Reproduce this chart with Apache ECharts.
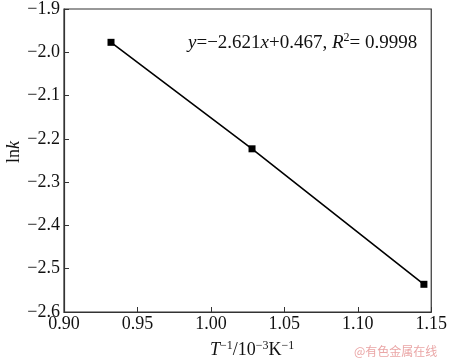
<!DOCTYPE html>
<html>
<head>
<meta charset="utf-8">
<script src="https://cdn.jsdelivr.net/npm/echarts@6/dist/echarts.min.js"></script>
<style>
  html, body { margin: 0; padding: 0; background: #fff; }
  #main { width: 450px; height: 363px; }
</style>
</head>
<body>
<div id="main"></div>
<script>
// 数据
var invT = [0.932, 1.028, 1.145];
var lnk = [-1.977, -2.223, -2.536];
var xTicks = ['0.90', '0.95', '1.00', '1.05', '1.10', '1.15'];
var yTicks = ['-1.9', '-2.0', '-2.1', '-2.2', '-2.3', '-2.4', '-2.5', '-2.6'];

var serif = '"Liberation Serif", "DejaVu Serif", serif';
var points = invT.map(function (x, i) { return [x, lnk[i]]; });

var myChart = echarts.init(document.getElementById('main'));
myChart.setOption({
    animation: false,
    grid: { left: 64, top: 4, right: 12, bottom: 51, show: true, borderColor: '#333', borderWidth: 1.2 },
    xAxis: {
        type: 'value', min: 0.9, max: 1.15, interval: 0.05,
        axisLine: { lineStyle: { color: '#333', width: 1.2 } },
        axisTick: { inside: true, length: 5, lineStyle: { color: '#333' } },
        splitLine: { show: false },
        axisLabel: {
            color: '#111', fontFamily: serif, fontSize: 18, margin: 3,
            formatter: function (v) { return xTicks[Math.round((v - 0.9) / 0.05)]; }
        }
    },
    yAxis: {
        type: 'value', min: -2.6, max: -1.9, interval: 0.1,
        axisLine: { lineStyle: { color: '#333', width: 1.2 } },
        axisTick: { inside: true, length: 5, lineStyle: { color: '#333' } },
        splitLine: { show: false },
        axisLabel: {
            color: '#111', fontFamily: serif, fontSize: 18, margin: 4,
            formatter: function (v) {
                return yTicks[Math.round((-1.9 - v) / 0.1)].replace('-', '\u2212');
            }
        }
    },
    series: [{
        type: 'line',
        data: points,
        symbol: 'rect',
        symbolSize: 7,
        lineStyle: { color: '#000', width: 1.6 },
        itemStyle: { color: '#000' }
    }],
    graphic: [
        {
            type: 'text', left: 188, top: 32,
            style: {
                text: '{i|y}{n|=\u22122.621}{i|x}{n|+0.467, }{i|R}{s|2}{n|= 0.9998}',
                rich: {
                    i: { fontFamily: serif, fontSize: 19, fontStyle: 'italic', fill: '#111', lineHeight: 22 },
                    n: { fontFamily: serif, fontSize: 19, fill: '#111', lineHeight: 22 },
                    s: { fontFamily: serif, fontSize: 12, fill: '#111', verticalAlign: 'top', lineHeight: 22 }
                }
            }
        },
        {
            type: 'text', left: 210, top: 340,
            style: {
                text: '{i|T}{s|\u22121}{n|/10}{s|\u22123}{n|K}{s|\u22121}',
                rich: {
                    i: { fontFamily: serif, fontSize: 18, fontStyle: 'italic', fill: '#111', lineHeight: 21 },
                    n: { fontFamily: serif, fontSize: 18, fill: '#111', lineHeight: 21 },
                    s: { fontFamily: serif, fontSize: 12, fill: '#111', verticalAlign: 'top', lineHeight: 21 }
                }
            }
        },
        {
            type: 'text', x: 14, y: 152, rotation: Math.PI / 2,
            style: {
                text: '{n|ln}{i|k}',
                align: 'center', verticalAlign: 'middle',
                rich: {
                    i: { fontFamily: serif, fontSize: 18, fontStyle: 'italic', fill: '#111' },
                    n: { fontFamily: serif, fontSize: 18, fill: '#111' }
                }
            }
        },
        {
            type: 'text', left: 354, top: 345,
            style: {
                text: '@有色金属在线',
                fontFamily: '"Noto Sans CJK SC", sans-serif', fontSize: 12, fill: '#eaa6a6'
            }
        }
    ]
});
</script>
</body>
</html>
